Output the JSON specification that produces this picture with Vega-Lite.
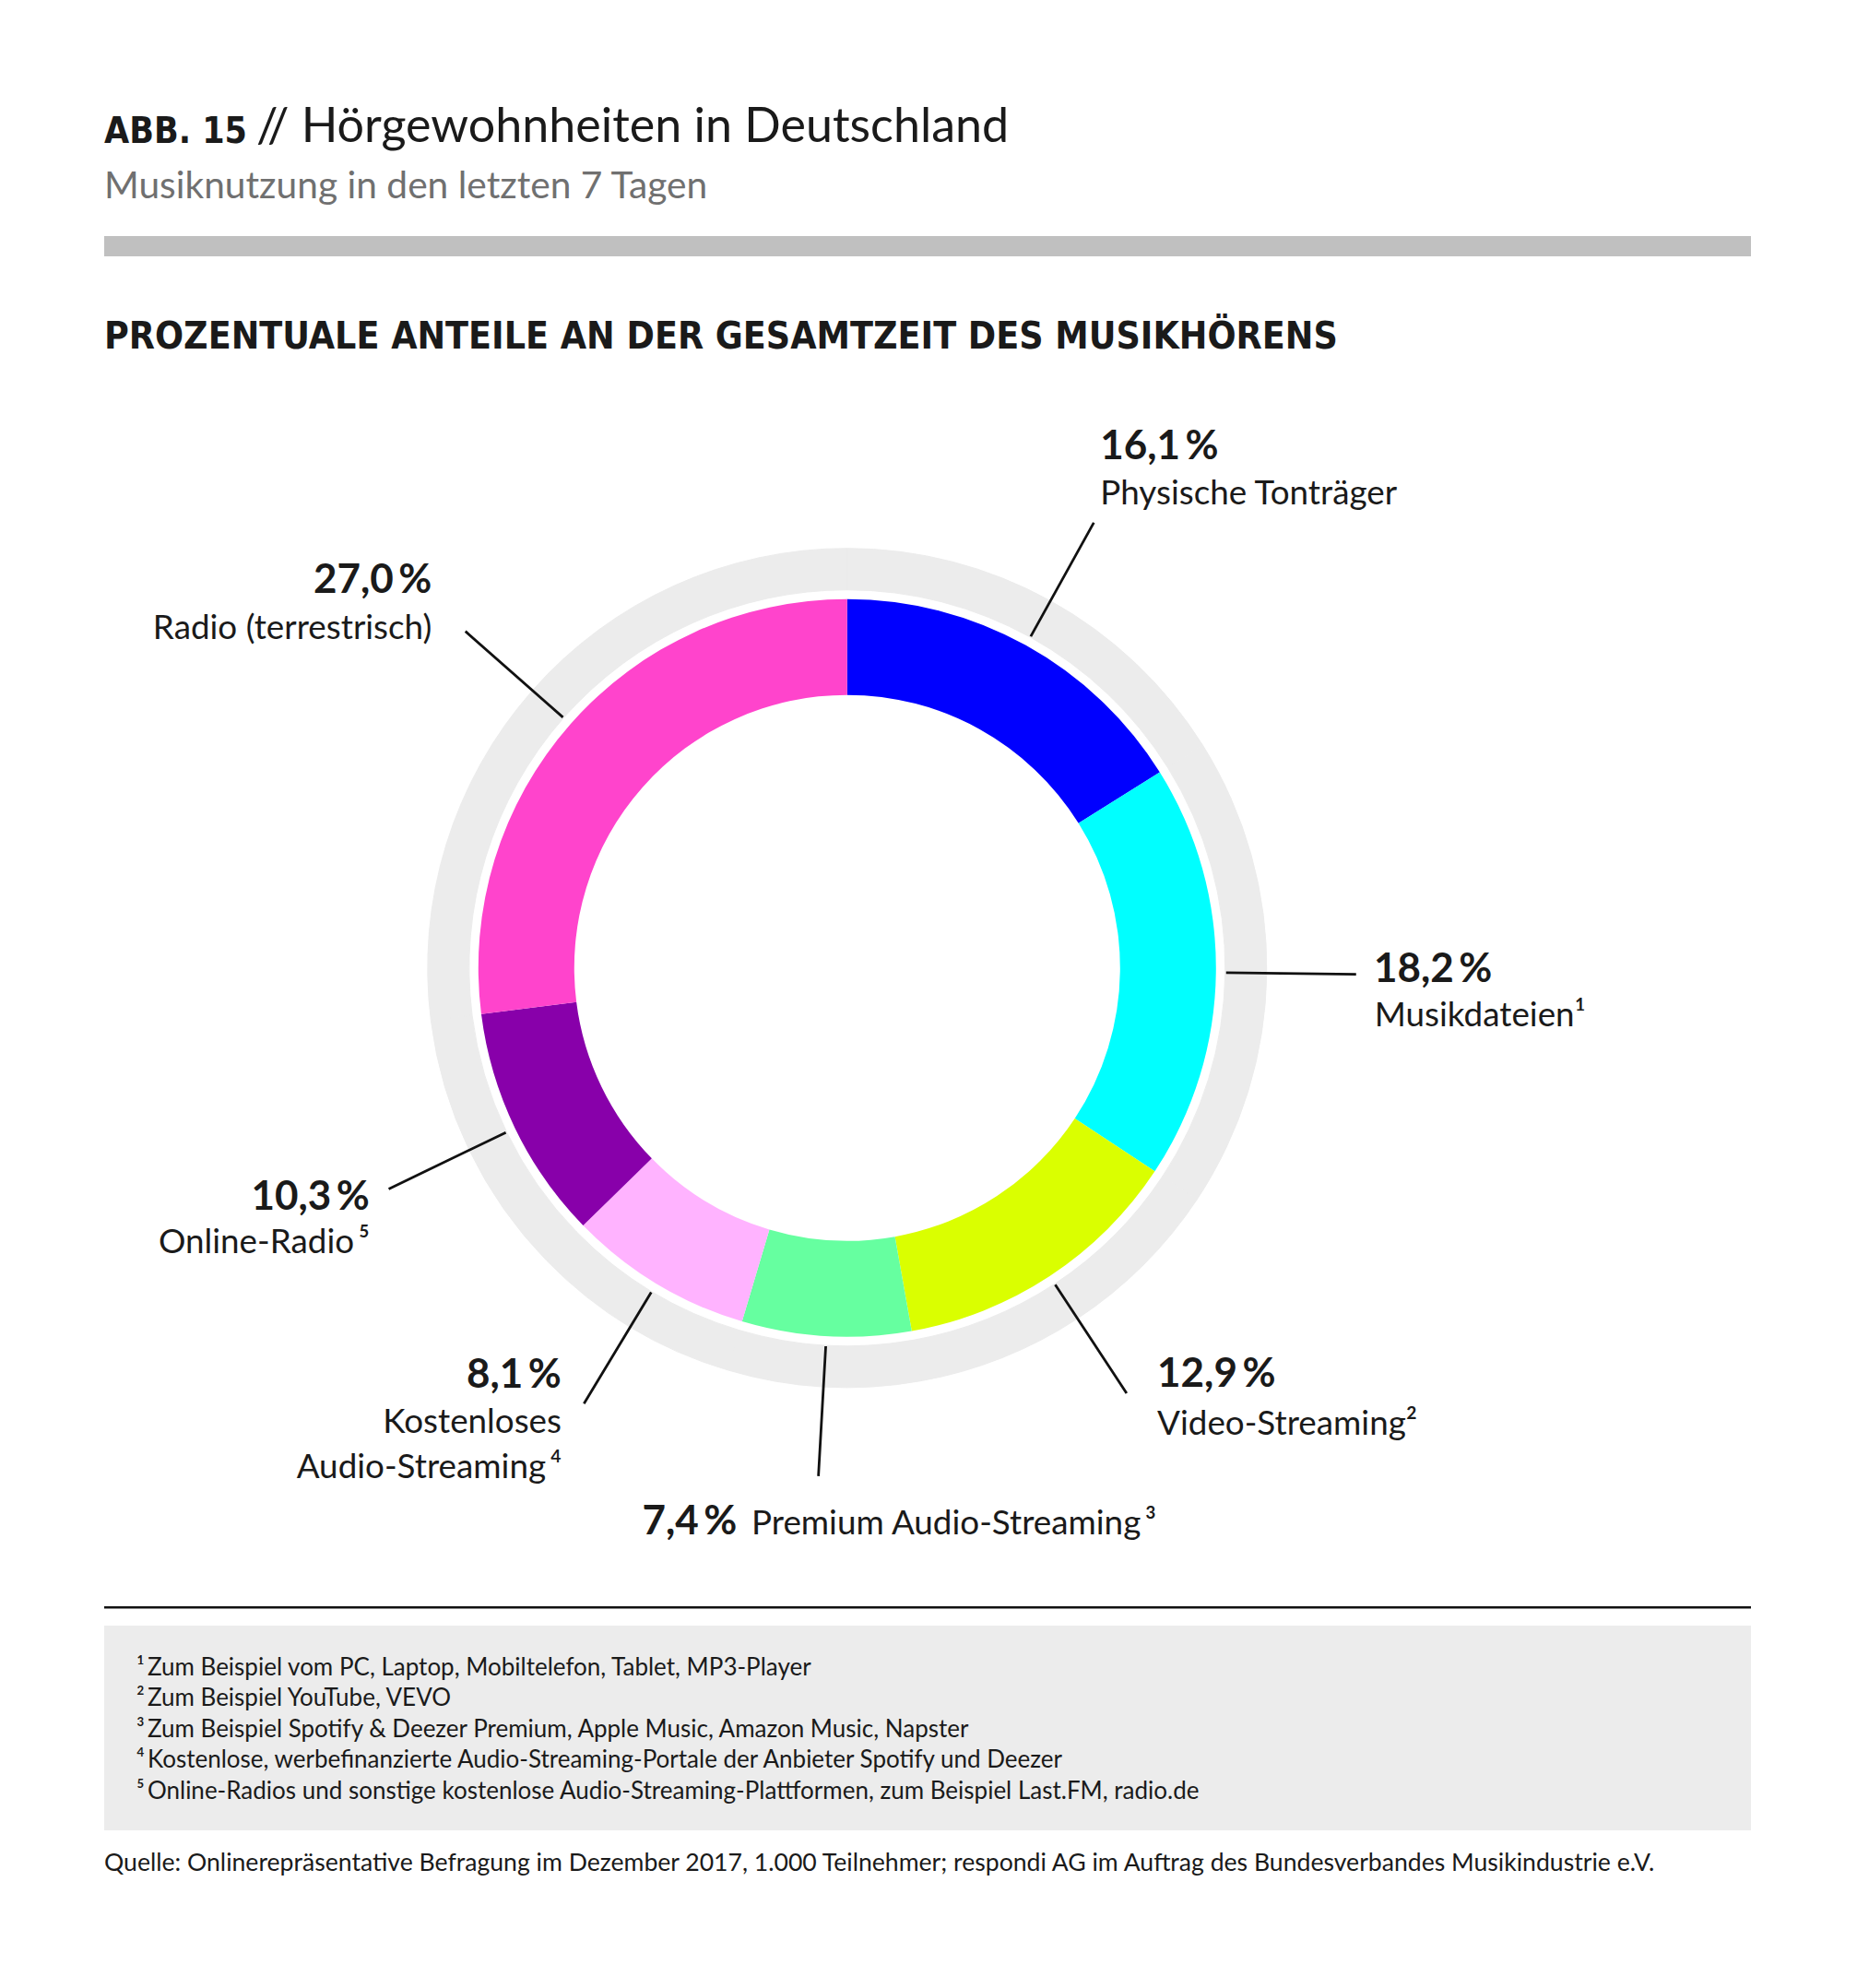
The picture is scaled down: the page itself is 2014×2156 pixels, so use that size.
{
  "$schema": "https://vega.github.io/schema/vega-lite/v6.json",
  "background": "white",
  "padding": {"left": 113, "top": 0, "right": 40, "bottom": 40},
  "config": {
    "view": {"stroke": null},
    "locale": {
      "number": {"decimal": ",", "thousands": ".", "grouping": [3], "currency": ["", " €"], "percent": "\u2009%"}
    },
    "title": {"anchor": "start", "baseline": "alphabetic", "frame": "group", "font": "Lato", "color": "#1a1a1a", "fontWeight": "normal"},
    "text": {"font": "Lato", "color": "#1a1a1a"}
  },
  "spacing": 0,
  "bounds": "flush",
  "vconcat": [
    {"width": 1786, "height": 254, "data": {"values": []}, "mark": "point"},
    {
      "width": 1786, "height": 1, "data": {"values": []}, "mark": "point",
      "title": {"text": "ABB. 15", "font": "Liberation Sans Narrow, DejaVu Sans Condensed, sans-serif", "fontWeight": "bold", "fontSize": 39, "offset": 90.6}
    },
    {
      "width": 1786, "height": 1, "data": {"values": []}, "mark": "point",
      "title": {"text": "// Hörgewohnheiten in Deutschland", "fontSize": 52, "offset": 89.6, "dx": 165}
    },
    {
      "width": 1786, "height": 22, "view": {"fill": "#c0c0c0"}, "data": {"values": []}, "mark": "point",
      "title": {"text": "Musiknutzung in den letzten 7 Tagen", "fontSize": 40.7, "color": "#707070", "offset": 32.3}
    },
    {"width": 1786, "height": 142, "data": {"values": []}, "mark": "point"},
    {
      "width": 1611.6,
      "height": 1259.4,
      "title": {
        "text": "PROZENTUALE ANTEILE AN DER GESAMTZEIT DES MUSIKHÖRENS",
        "font": "Liberation Sans Narrow, DejaVu Sans Condensed, sans-serif",
        "fontWeight": "bold",
        "fontSize": 40.7,
        "offset": 33.5
      },
      "data": {
        "values": [
          {"nr": 1, "kategorie": "Physische Tonträger", "anteil": 0.161},
          {"nr": 2, "kategorie": "Musikdateien¹", "anteil": 0.182},
          {"nr": 3, "kategorie": "Video-Streaming²", "anteil": 0.129},
          {"nr": 4, "kategorie": "Premium Audio-Streaming\u2009³", "anteil": 0.074},
          {"nr": 5, "kategorie": "Kostenloses Audio-Streaming\u2009⁴", "anteil": 0.081},
          {"nr": 6, "kategorie": "Online-Radio\u2009⁵", "anteil": 0.103},
          {"nr": 7, "kategorie": "Radio (terrestrisch)", "anteil": 0.27}
        ]
      },
      "encoding": {
        "theta": {"field": "anteil", "type": "quantitative", "stack": true},
        "order": {"field": "nr", "type": "quantitative"},
        "detail": {"field": "kategorie", "type": "nominal"}
      },
      "layer": [
        {"mark": {"type": "arc", "radius": 455, "radius2": 410, "color": "#ececec", "stroke": "#ececec", "strokeWidth": 1}},
        {
          "mark": {"type": "arc", "radius": 400, "radius2": 296},
          "encoding": {
            "color": {
              "field": "kategorie",
              "type": "nominal",
              "legend": null,
              "scale": {
                "domain": ["Physische Tonträger", "Musikdateien¹", "Video-Streaming²", "Premium Audio-Streaming\u2009³", "Kostenloses Audio-Streaming\u2009⁴", "Online-Radio\u2009⁵", "Radio (terrestrisch)"],
                "range": ["#0000ff", "#00ffff", "#daff00", "#66ffa0", "#ffb3ff", "#8800aa", "#ff44cc"]
              }
            }
          }
        },
        {"mark": {"type": "arc", "radius": 552, "radius2": 411, "padAngle": 3, "filled": false, "stroke": "#111111", "strokeWidth": 2.8}},

        {"mark": {"type": "text", "radius": 552, "align": "left", "baseline": "alphabetic", "dx": 7, "dy": -69, "fontSize": 44, "fontWeight": "bold"},
         "encoding": {"text": {"condition": {"test": "datum.nr === 1", "field": "anteil", "type": "quantitative", "format": ".1%"}, "value": ""}}},
        {"mark": {"type": "text", "radius": 552, "align": "left", "baseline": "alphabetic", "dx": 7, "dy": -19.5, "fontSize": 36.8},
         "encoding": {"text": {"condition": {"test": "datum.nr === 1", "field": "kategorie", "type": "nominal"}, "value": ""}}},

        {"mark": {"type": "text", "radius": 552, "align": "left", "baseline": "alphabetic", "dx": 19.2, "dy": 8.4, "fontSize": 44, "fontWeight": "bold"},
         "encoding": {"text": {"condition": {"test": "datum.nr === 2", "field": "anteil", "type": "quantitative", "format": ".1%"}, "value": ""}}},
        {"mark": {"type": "text", "radius": 552, "align": "left", "baseline": "alphabetic", "dx": 20, "dy": 56.7, "fontSize": 36.8},
         "encoding": {"text": {"condition": {"test": "datum.nr === 2", "field": "kategorie", "type": "nominal"}, "value": ""}}},

        {"mark": {"type": "text", "radius": 552, "align": "left", "baseline": "alphabetic", "dx": 33.2, "dy": -7.1, "fontSize": 44, "fontWeight": "bold"},
         "encoding": {"text": {"condition": {"test": "datum.nr === 3", "field": "anteil", "type": "quantitative", "format": ".1%"}, "value": ""}}},
        {"mark": {"type": "text", "radius": 552, "align": "left", "baseline": "alphabetic", "dx": 33.2, "dy": 44.6, "fontSize": 36.8},
         "encoding": {"text": {"condition": {"test": "datum.nr === 3", "field": "kategorie", "type": "nominal"}, "value": ""}}},

        {"mark": {"type": "text", "radius": 552, "align": "right", "baseline": "alphabetic", "dx": -88.2, "dy": 63.2, "fontSize": 44, "fontWeight": "bold"},
         "encoding": {"text": {"condition": {"test": "datum.nr === 4", "field": "anteil", "type": "quantitative", "format": ".1%"}, "value": ""}}},
        {"mark": {"type": "text", "radius": 552, "align": "left", "baseline": "alphabetic", "dx": -72.6, "dy": 63.2, "fontSize": 36.8},
         "encoding": {"text": {"condition": {"test": "datum.nr === 4", "field": "kategorie", "type": "nominal"}, "value": ""}}},

        {"mark": {"type": "text", "radius": 552, "align": "right", "baseline": "alphabetic", "dx": -24.4, "dy": -17.2, "fontSize": 44, "fontWeight": "bold"},
         "encoding": {"text": {"condition": {"test": "datum.nr === 5", "field": "anteil", "type": "quantitative", "format": ".1%"}, "value": ""}}},
        {"mark": {"type": "text", "radius": 552, "align": "right", "baseline": "alphabetic", "dx": -24.4, "dy": 31.8, "fontSize": 36.8, "lineBreak": " ", "lineHeight": 48.7},
         "encoding": {"text": {"condition": {"test": "datum.nr === 5", "field": "kategorie", "type": "nominal"}, "value": ""}}},

        {"mark": {"type": "text", "radius": 552, "align": "right", "baseline": "alphabetic", "dx": -20.7, "dy": 22.3, "fontSize": 44, "fontWeight": "bold"},
         "encoding": {"text": {"condition": {"test": "datum.nr === 6", "field": "anteil", "type": "quantitative", "format": ".1%"}, "value": ""}}},
        {"mark": {"type": "text", "radius": 552, "align": "right", "baseline": "alphabetic", "dx": -20.6, "dy": 69.9, "fontSize": 36.8},
         "encoding": {"text": {"condition": {"test": "datum.nr === 6", "field": "kategorie", "type": "nominal"}, "value": ""}}},

        {"mark": {"type": "text", "radius": 552, "align": "right", "baseline": "alphabetic", "dx": -36.4, "dy": -41.4, "fontSize": 44, "fontWeight": "bold"},
         "encoding": {"text": {"condition": {"test": "datum.nr === 7", "field": "anteil", "type": "quantitative", "format": ".1%"}, "value": ""}}},
        {"mark": {"type": "text", "radius": 552, "align": "right", "baseline": "alphabetic", "dx": -36.4, "dy": 8, "fontSize": 36.8},
         "encoding": {"text": {"condition": {"test": "datum.nr === 7", "field": "kategorie", "type": "nominal"}, "value": ""}}}
      ]
    },
    {"width": 1786, "height": 61.6, "data": {"values": []}, "mark": "point"},
    {"width": 1786, "height": 2.5, "view": {"fill": "#111111"}, "data": {"values": []}, "mark": "point"},
    {"width": 1786, "height": 17.5, "data": {"values": []}, "mark": "point"},
    {
      "width": 1786, "height": 222, "view": {"fill": "#ececec"}, "data": {"values": []}, "mark": "point",
      "title": {
        "text": [
          "¹\u2009Zum Beispiel vom PC, Laptop, Mobiltelefon, Tablet, MP3-Player",
          "²\u2009Zum Beispiel YouTube, VEVO",
          "³\u2009Zum Beispiel Spotify & Deezer Premium, Apple Music, Amazon Music, Napster",
          "⁴\u2009Kostenlose, werbefinanzierte Audio-Streaming-Portale der Anbieter Spotify und Deezer",
          "⁵\u2009Online-Radios und sonstige kostenlose Audio-Streaming-Plattformen, zum Beispiel Last.FM, radio.de"
        ],
        "fontSize": 26,
        "lineHeight": 33.4,
        "offset": -192.6,
        "dx": 35
      }
    },
    {
      "width": 1786, "height": 1, "data": {"values": []}, "mark": "point",
      "title": {"text": "Quelle: Onlinerepräsentative Befragung im Dezember 2017, 1.000 Teilnehmer; respondi AG im Auftrag des Bundesverbandes Musikindustrie e.V.", "fontSize": 26.6, "offset": -49.6}
    }
  ]
}
